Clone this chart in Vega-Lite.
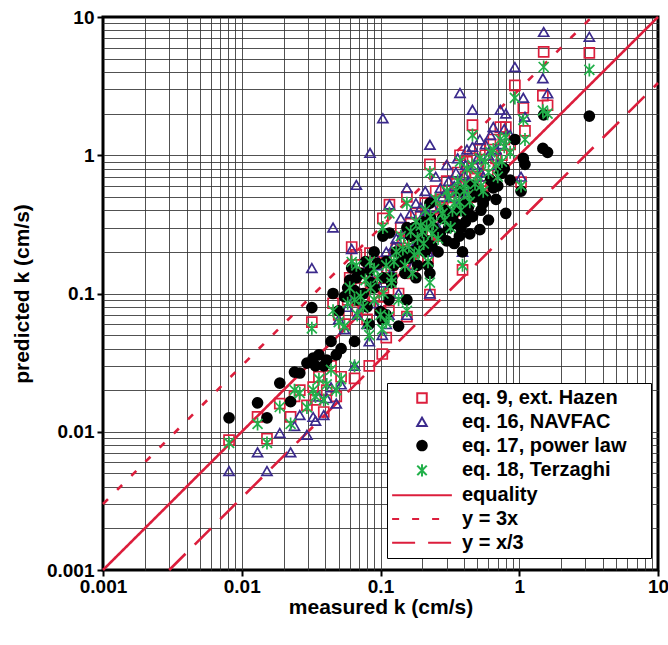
{
  "$schema": "https://vega.github.io/schema/vega-lite/v6.json",
  "width": 555,
  "height": 553,
  "autosize": {"type": "none"},
  "padding": {"left": 103, "top": 17, "right": 10, "bottom": 75},
  "background": "white",
  "config": {
    "view": {"stroke": "black", "strokeWidth": 3},
    "axis": {
      "labelFont": "Liberation Sans", "labelFontWeight": "bold", "labelFontSize": 19, "labelColor": "black",
      "titleFont": "Liberation Sans", "titleFontWeight": "bold", "titleFontSize": 21, "titleColor": "black",
      "domain": false, "grid": true, "gridColor": "#333333", "gridWidth": 1,
      "tickColor": "black", "tickWidth": 2, "tickSize": 6, "labelOverlap": false, "labelFlush": false
    },
    "legend": {
      "labelFont": "Liberation Sans", "labelFontWeight": "bold", "labelFontSize": 20, "labelColor": "black",
      "symbolSize": 90, "symbolStrokeWidth": 2, "labelLimit": 400,
      "titleOrient": "right", "titleColor": "white", "titleFontSize": 20, "titlePadding": 7, "titleFont": "Liberation Sans"
    }
  },
  "datasets": {
    "lines": [
      {"m": 0.001, "k": 0.001, "e": "E"}, {"m": 10, "k": 10, "e": "E"},
      {"m": 0.001, "k": 0.003, "e": "A"}, {"m": 3.3333, "k": 10, "e": "A"},
      {"m": 0.003, "k": 0.001, "e": "B"}, {"m": 10, "k": 3.3333, "e": "B"}
    ],
    "pts": [
      {"m":0.0081,"k":0.0087,"e":"H"},{"m":0.0152,"k":0.0089,"e":"H"},{"m":0.013,"k":0.0128,"e":"H"},{"m":0.0225,"k":0.0128,"e":"H"},{"m":0.0188,"k":0.016,"e":"H"},{"m":0.0295,"k":0.0155,"e":"H"},{"m":0.0262,"k":0.02,"e":"H"},{"m":0.0327,"k":0.021,"e":"H"},{"m":0.039,"k":0.0139,"e":"H"},{"m":0.041,"k":0.02,"e":"H"},{"m":0.024,"k":0.018,"e":"H"},{"m":0.036,"k":0.025,"e":"H"},{"m":0.044,"k":0.03,"e":"H"},{"m":0.034,"k":0.017,"e":"H"},{"m":0.032,"k":0.062,"e":"H"},{"m":0.0455,"k":0.085,"e":"H"},{"m":0.048,"k":0.018,"e":"H"},{"m":0.052,"k":0.025,"e":"H"},{"m":0.065,"k":0.0243,"e":"H"},{"m":0.062,"k":0.217,"e":"H"},{"m":0.067,"k":0.19,"e":"H"},{"m":0.083,"k":0.03,"e":"H"},{"m":0.084,"k":0.196,"e":"H"},{"m":0.103,"k":0.0365,"e":"H"},{"m":0.104,"k":0.35,"e":"H"},{"m":0.11,"k":0.048,"e":"H"},{"m":0.116,"k":0.44,"e":"H"},{"m":0.12,"k":0.16,"e":"H"},{"m":0.155,"k":0.068,"e":"H"},{"m":0.155,"k":0.5,"e":"H"},{"m":0.227,"k":0.098,"e":"H"},{"m":0.227,"k":0.86,"e":"H"},{"m":0.39,"k":0.148,"e":"H"},{"m":0.374,"k":1.0,"e":"H"},{"m":0.46,"k":1.65,"e":"H"},{"m":0.73,"k":1.6,"e":"H"},{"m":0.93,"k":3.2,"e":"H"},{"m":1.07,"k":2.2,"e":"H"},{"m":1.48,"k":2.7,"e":"H"},{"m":1.5,"k":5.6,"e":"H"},{"m":3.2,"k":5.5,"e":"H"},{"m":1.6,"k":2.3,"e":"H"},{"m":1.03,"k":0.64,"e":"H"},{"m":1.1,"k":1.5,"e":"H"},
      {"m":0.05,"k":0.07,"e":"H"},{"m":0.055,"k":0.06,"e":"H"},{"m":0.058,"k":0.09,"e":"H"},{"m":0.06,"k":0.13,"e":"H"},{"m":0.068,"k":0.075,"e":"H"},{"m":0.072,"k":0.11,"e":"H"},{"m":0.075,"k":0.085,"e":"H"},{"m":0.08,"k":0.065,"e":"H"},{"m":0.085,"k":0.12,"e":"H"},{"m":0.09,"k":0.095,"e":"H"},{"m":0.095,"k":0.14,"e":"H"},{"m":0.1,"k":0.08,"e":"H"},{"m":0.105,"k":0.11,"e":"H"},{"m":0.11,"k":0.17,"e":"H"},{"m":0.115,"k":0.075,"e":"H"},{"m":0.12,"k":0.13,"e":"H"},
      {"m":0.13,"k":0.21,"e":"H"},{"m":0.135,"k":0.1,"e":"H"},{"m":0.14,"k":0.3,"e":"H"},{"m":0.15,"k":0.17,"e":"H"},{"m":0.16,"k":0.25,"e":"H"},{"m":0.17,"k":0.14,"e":"H"},{"m":0.18,"k":0.38,"e":"H"},{"m":0.19,"k":0.22,"e":"H"},{"m":0.2,"k":0.3,"e":"H"},{"m":0.21,"k":0.45,"e":"H"},{"m":0.22,"k":0.18,"e":"H"},{"m":0.24,"k":0.35,"e":"H"},{"m":0.25,"k":0.55,"e":"H"},{"m":0.26,"k":0.26,"e":"H"},{"m":0.28,"k":0.42,"e":"H"},{"m":0.3,"k":0.65,"e":"H"},
      {"m":0.32,"k":0.33,"e":"H"},{"m":0.34,"k":0.5,"e":"H"},{"m":0.36,"k":0.75,"e":"H"},{"m":0.38,"k":0.42,"e":"H"},{"m":0.4,"k":0.6,"e":"H"},{"m":0.42,"k":0.9,"e":"H"},{"m":0.44,"k":0.5,"e":"H"},{"m":0.48,"k":0.7,"e":"H"},{"m":0.52,"k":1.1,"e":"H"},{"m":0.55,"k":0.6,"e":"H"},{"m":0.6,"k":0.85,"e":"H"},{"m":0.65,"k":1.3,"e":"H"},{"m":0.7,"k":0.75,"e":"H"},{"m":0.75,"k":1.0,"e":"H"},{"m":0.8,"k":1.6,"e":"H"},{"m":0.86,"k":1.2,"e":"H"},
      {"m":0.125,"k":0.19,"e":"H"},{"m":0.145,"k":0.24,"e":"H"},{"m":0.165,"k":0.32,"e":"H"},{"m":0.175,"k":0.2,"e":"H"},{"m":0.185,"k":0.27,"e":"H"},{"m":0.195,"k":0.36,"e":"H"},{"m":0.205,"k":0.24,"e":"H"},{"m":0.215,"k":0.33,"e":"H"},{"m":0.23,"k":0.4,"e":"H"},{"m":0.235,"k":0.28,"e":"H"},{"m":0.27,"k":0.48,"e":"H"},{"m":0.29,"k":0.36,"e":"H"},{"m":0.31,"k":0.55,"e":"H"},{"m":0.33,"k":0.42,"e":"H"},{"m":0.35,"k":0.62,"e":"H"},{"m":0.37,"k":0.5,"e":"H"},{"m":0.41,"k":0.7,"e":"H"},{"m":0.43,"k":0.58,"e":"H"},{"m":0.46,"k":0.95,"e":"H"},{"m":0.5,"k":0.8,"e":"H"},{"m":0.53,"k":0.65,"e":"H"},{"m":0.57,"k":1.0,"e":"H"},{"m":0.62,"k":1.2,"e":"H"},{"m":0.68,"k":0.95,"e":"H"},{"m":0.78,"k":1.3,"e":"H"},{"m":0.09,"k":0.17,"e":"H"},{"m":0.065,"k":0.1,"e":"H"},{"m":0.078,"k":0.14,"e":"H"},

      {"m":0.0081,"k":0.0052,"e":"N"},{"m":0.0152,"k":0.0052,"e":"N"},{"m":0.013,"k":0.0071,"e":"N"},{"m":0.0225,"k":0.0071,"e":"N"},{"m":0.0188,"k":0.0098,"e":"N"},{"m":0.0295,"k":0.0095,"e":"N"},{"m":0.0262,"k":0.0132,"e":"N"},{"m":0.0327,"k":0.0128,"e":"N"},{"m":0.039,"k":0.0132,"e":"N"},{"m":0.041,"k":0.0175,"e":"N"},{"m":0.024,"k":0.011,"e":"N"},{"m":0.036,"k":0.018,"e":"N"},{"m":0.044,"k":0.021,"e":"N"},{"m":0.034,"k":0.012,"e":"N"},{"m":0.032,"k":0.153,"e":"N"},{"m":0.0455,"k":0.3,"e":"N"},{"m":0.048,"k":0.016,"e":"N"},{"m":0.052,"k":0.022,"e":"N"},{"m":0.065,"k":0.03,"e":"N"},{"m":0.062,"k":0.21,"e":"N"},{"m":0.067,"k":0.61,"e":"N"},{"m":0.083,"k":0.045,"e":"N"},{"m":0.084,"k":1.04,"e":"N"},{"m":0.103,"k":0.05,"e":"N"},{"m":0.104,"k":1.85,"e":"N"},{"m":0.11,"k":0.06,"e":"N"},{"m":0.116,"k":0.44,"e":"N"},{"m":0.12,"k":0.143,"e":"N"},{"m":0.155,"k":0.07,"e":"N"},{"m":0.155,"k":0.58,"e":"N"},{"m":0.227,"k":0.1,"e":"N"},{"m":0.227,"k":1.19,"e":"N"},{"m":0.39,"k":0.2,"e":"N"},{"m":0.374,"k":2.82,"e":"N"},{"m":0.46,"k":2.13,"e":"N"},{"m":0.73,"k":2.13,"e":"N"},{"m":0.93,"k":4.35,"e":"N"},{"m":1.07,"k":2.6,"e":"N"},{"m":1.48,"k":3.6,"e":"N"},{"m":1.5,"k":7.8,"e":"N"},{"m":3.2,"k":7.2,"e":"N"},{"m":1.6,"k":2.8,"e":"N"},{"m":1.03,"k":0.7,"e":"N"},{"m":1.1,"k":1.9,"e":"N"},
      {"m":0.05,"k":0.065,"e":"N"},{"m":0.055,"k":0.055,"e":"N"},{"m":0.058,"k":0.08,"e":"N"},{"m":0.06,"k":0.12,"e":"N"},{"m":0.068,"k":0.07,"e":"N"},{"m":0.072,"k":0.1,"e":"N"},{"m":0.075,"k":0.08,"e":"N"},{"m":0.08,"k":0.06,"e":"N"},{"m":0.085,"k":0.13,"e":"N"},{"m":0.09,"k":0.085,"e":"N"},{"m":0.095,"k":0.16,"e":"N"},{"m":0.1,"k":0.075,"e":"N"},{"m":0.105,"k":0.12,"e":"N"},{"m":0.11,"k":0.2,"e":"N"},{"m":0.115,"k":0.07,"e":"N"},{"m":0.12,"k":0.14,"e":"N"},
      {"m":0.13,"k":0.25,"e":"N"},{"m":0.135,"k":0.1,"e":"N"},{"m":0.14,"k":0.35,"e":"N"},{"m":0.15,"k":0.19,"e":"N"},{"m":0.16,"k":0.3,"e":"N"},{"m":0.17,"k":0.16,"e":"N"},{"m":0.18,"k":0.45,"e":"N"},{"m":0.19,"k":0.24,"e":"N"},{"m":0.2,"k":0.36,"e":"N"},{"m":0.21,"k":0.55,"e":"N"},{"m":0.22,"k":0.2,"e":"N"},{"m":0.24,"k":0.42,"e":"N"},{"m":0.25,"k":0.7,"e":"N"},{"m":0.26,"k":0.3,"e":"N"},{"m":0.28,"k":0.5,"e":"N"},{"m":0.3,"k":0.85,"e":"N"},
      {"m":0.32,"k":0.38,"e":"N"},{"m":0.34,"k":0.6,"e":"N"},{"m":0.36,"k":0.95,"e":"N"},{"m":0.38,"k":0.48,"e":"N"},{"m":0.4,"k":0.72,"e":"N"},{"m":0.42,"k":1.1,"e":"N"},{"m":0.44,"k":0.55,"e":"N"},{"m":0.48,"k":0.85,"e":"N"},{"m":0.52,"k":1.3,"e":"N"},{"m":0.55,"k":0.7,"e":"N"},{"m":0.6,"k":1.0,"e":"N"},{"m":0.65,"k":1.6,"e":"N"},{"m":0.7,"k":0.85,"e":"N"},{"m":0.75,"k":1.2,"e":"N"},{"m":0.8,"k":2.0,"e":"N"},{"m":0.86,"k":1.4,"e":"N"},
      {"m":0.125,"k":0.22,"e":"N"},{"m":0.145,"k":0.27,"e":"N"},{"m":0.165,"k":0.38,"e":"N"},{"m":0.175,"k":0.22,"e":"N"},{"m":0.185,"k":0.3,"e":"N"},{"m":0.195,"k":0.42,"e":"N"},{"m":0.205,"k":0.26,"e":"N"},{"m":0.215,"k":0.38,"e":"N"},{"m":0.23,"k":0.48,"e":"N"},{"m":0.235,"k":0.32,"e":"N"},{"m":0.27,"k":0.58,"e":"N"},{"m":0.29,"k":0.4,"e":"N"},{"m":0.31,"k":0.65,"e":"N"},{"m":0.33,"k":0.5,"e":"N"},{"m":0.35,"k":0.75,"e":"N"},{"m":0.37,"k":0.6,"e":"N"},{"m":0.41,"k":0.85,"e":"N"},{"m":0.43,"k":0.65,"e":"N"},{"m":0.46,"k":1.15,"e":"N"},{"m":0.5,"k":0.95,"e":"N"},{"m":0.53,"k":0.75,"e":"N"},{"m":0.57,"k":1.2,"e":"N"},{"m":0.62,"k":1.4,"e":"N"},{"m":0.68,"k":1.1,"e":"N"},{"m":0.78,"k":1.55,"e":"N"},{"m":0.09,"k":0.19,"e":"N"},{"m":0.065,"k":0.095,"e":"N"},{"m":0.078,"k":0.15,"e":"N"},

      {"m":0.0081,"k":0.0126,"e":"P"},{"m":0.0152,"k":0.0126,"e":"P"},{"m":0.013,"k":0.0162,"e":"P"},{"m":0.0225,"k":0.0165,"e":"P"},{"m":0.0188,"k":0.0225,"e":"P"},{"m":0.0295,"k":0.0314,"e":"P"},{"m":0.0262,"k":0.0266,"e":"P"},{"m":0.0327,"k":0.0341,"e":"P"},{"m":0.039,"k":0.03,"e":"P"},{"m":0.041,"k":0.033,"e":"P"},{"m":0.024,"k":0.027,"e":"P"},{"m":0.036,"k":0.036,"e":"P"},{"m":0.044,"k":0.045,"e":"P"},{"m":0.034,"k":0.03,"e":"P"},{"m":0.032,"k":0.079,"e":"P"},{"m":0.0455,"k":0.1,"e":"P"},{"m":0.048,"k":0.036,"e":"P"},{"m":0.052,"k":0.04,"e":"P"},{"m":0.065,"k":0.045,"e":"P"},{"m":0.062,"k":0.153,"e":"P"},{"m":0.067,"k":0.13,"e":"P"},{"m":0.083,"k":0.06,"e":"P"},{"m":0.084,"k":0.147,"e":"P"},{"m":0.103,"k":0.065,"e":"P"},{"m":0.104,"k":0.26,"e":"P"},{"m":0.11,"k":0.07,"e":"P"},{"m":0.116,"k":0.274,"e":"P"},{"m":0.12,"k":0.13,"e":"P"},{"m":0.155,"k":0.09,"e":"P"},{"m":0.155,"k":0.3,"e":"P"},{"m":0.227,"k":0.14,"e":"P"},{"m":0.227,"k":0.45,"e":"P"},{"m":0.39,"k":0.2,"e":"P"},{"m":0.374,"k":0.55,"e":"P"},{"m":0.46,"k":0.6,"e":"P"},{"m":0.73,"k":0.75,"e":"P"},{"m":0.93,"k":1.3,"e":"P"},{"m":1.07,"k":0.95,"e":"P"},{"m":1.48,"k":1.12,"e":"P"},{"m":1.5,"k":1.96,"e":"P"},{"m":3.2,"k":1.92,"e":"P"},{"m":1.6,"k":1.05,"e":"P"},{"m":1.03,"k":0.55,"e":"P"},{"m":1.1,"k":0.86,"e":"P"},
      {"m":0.05,"k":0.075,"e":"P"},{"m":0.055,"k":0.095,"e":"P"},{"m":0.058,"k":0.11,"e":"P"},{"m":0.06,"k":0.125,"e":"P"},{"m":0.068,"k":0.09,"e":"P"},{"m":0.072,"k":0.14,"e":"P"},{"m":0.075,"k":0.1,"e":"P"},{"m":0.08,"k":0.08,"e":"P"},{"m":0.085,"k":0.12,"e":"P"},{"m":0.09,"k":0.11,"e":"P"},{"m":0.095,"k":0.165,"e":"P"},{"m":0.1,"k":0.074,"e":"P"},{"m":0.105,"k":0.13,"e":"P"},{"m":0.11,"k":0.17,"e":"P"},{"m":0.115,"k":0.09,"e":"P"},{"m":0.12,"k":0.12,"e":"P"},
      {"m":0.13,"k":0.2,"e":"P"},{"m":0.135,"k":0.058,"e":"P"},{"m":0.14,"k":0.17,"e":"P"},{"m":0.15,"k":0.14,"e":"P"},{"m":0.16,"k":0.18,"e":"P"},{"m":0.17,"k":0.2,"e":"P"},{"m":0.18,"k":0.13,"e":"P"},{"m":0.19,"k":0.22,"e":"P"},{"m":0.2,"k":0.25,"e":"P"},{"m":0.21,"k":0.2,"e":"P"},{"m":0.22,"k":0.16,"e":"P"},{"m":0.24,"k":0.3,"e":"P"},{"m":0.25,"k":0.28,"e":"P"},{"m":0.26,"k":0.2,"e":"P"},{"m":0.28,"k":0.35,"e":"P"},{"m":0.3,"k":0.24,"e":"P"},
      {"m":0.32,"k":0.33,"e":"P"},{"m":0.34,"k":0.23,"e":"P"},{"m":0.36,"k":0.4,"e":"P"},{"m":0.38,"k":0.3,"e":"P"},{"m":0.4,"k":0.45,"e":"P"},{"m":0.42,"k":0.38,"e":"P"},{"m":0.44,"k":0.27,"e":"P"},{"m":0.48,"k":0.5,"e":"P"},{"m":0.52,"k":0.29,"e":"P"},{"m":0.55,"k":0.45,"e":"P"},{"m":0.6,"k":0.34,"e":"P"},{"m":0.65,"k":0.58,"e":"P"},{"m":0.7,"k":0.6,"e":"P"},{"m":0.75,"k":0.74,"e":"P"},{"m":0.8,"k":0.38,"e":"P"},{"m":0.86,"k":0.66,"e":"P"},
      {"m":0.125,"k":0.16,"e":"P"},{"m":0.145,"k":0.2,"e":"P"},{"m":0.165,"k":0.26,"e":"P"},{"m":0.175,"k":0.3,"e":"P"},{"m":0.185,"k":0.16,"e":"P"},{"m":0.195,"k":0.28,"e":"P"},{"m":0.205,"k":0.33,"e":"P"},{"m":0.215,"k":0.24,"e":"P"},{"m":0.23,"k":0.35,"e":"P"},{"m":0.235,"k":0.22,"e":"P"},{"m":0.27,"k":0.27,"e":"P"},{"m":0.29,"k":0.4,"e":"P"},{"m":0.31,"k":0.3,"e":"P"},{"m":0.33,"k":0.36,"e":"P"},{"m":0.35,"k":0.32,"e":"P"},{"m":0.37,"k":0.26,"e":"P"},{"m":0.41,"k":0.33,"e":"P"},{"m":0.43,"k":0.42,"e":"P"},{"m":0.46,"k":0.36,"e":"P"},{"m":0.5,"k":0.55,"e":"P"},{"m":0.53,"k":0.4,"e":"P"},{"m":0.57,"k":0.5,"e":"P"},{"m":0.62,"k":0.66,"e":"P"},{"m":0.68,"k":0.48,"e":"P"},{"m":0.78,"k":0.8,"e":"P"},{"m":0.09,"k":0.2,"e":"P"},{"m":0.065,"k":0.105,"e":"P"},{"m":0.078,"k":0.17,"e":"P"},

      {"m":0.0081,"k":0.0083,"e":"T"},{"m":0.0152,"k":0.0083,"e":"T"},{"m":0.013,"k":0.0114,"e":"T"},{"m":0.0225,"k":0.0114,"e":"T"},{"m":0.0188,"k":0.0151,"e":"T"},{"m":0.0295,"k":0.015,"e":"T"},{"m":0.0262,"k":0.019,"e":"T"},{"m":0.0327,"k":0.02,"e":"T"},{"m":0.039,"k":0.017,"e":"T"},{"m":0.041,"k":0.022,"e":"T"},{"m":0.024,"k":0.02,"e":"T"},{"m":0.036,"k":0.024,"e":"T"},{"m":0.044,"k":0.028,"e":"T"},{"m":0.034,"k":0.018,"e":"T"},{"m":0.032,"k":0.056,"e":"T"},{"m":0.0455,"k":0.075,"e":"T"},{"m":0.048,"k":0.02,"e":"T"},{"m":0.052,"k":0.024,"e":"T"},{"m":0.065,"k":0.03,"e":"T"},{"m":0.062,"k":0.169,"e":"T"},{"m":0.067,"k":0.16,"e":"T"},{"m":0.083,"k":0.05,"e":"T"},{"m":0.084,"k":0.17,"e":"T"},{"m":0.103,"k":0.055,"e":"T"},{"m":0.104,"k":0.3,"e":"T"},{"m":0.11,"k":0.062,"e":"T"},{"m":0.116,"k":0.38,"e":"T"},{"m":0.12,"k":0.13,"e":"T"},{"m":0.155,"k":0.075,"e":"T"},{"m":0.155,"k":0.45,"e":"T"},{"m":0.227,"k":0.12,"e":"T"},{"m":0.227,"k":0.75,"e":"T"},{"m":0.39,"k":0.16,"e":"T"},{"m":0.374,"k":0.9,"e":"T"},{"m":0.46,"k":1.4,"e":"T"},{"m":0.73,"k":1.3,"e":"T"},{"m":0.93,"k":2.6,"e":"T"},{"m":1.07,"k":1.8,"e":"T"},{"m":1.48,"k":2.1,"e":"T"},{"m":1.5,"k":4.35,"e":"T"},{"m":3.2,"k":4.14,"e":"T"},{"m":1.6,"k":2.0,"e":"T"},{"m":1.03,"k":0.6,"e":"T"},{"m":1.1,"k":1.3,"e":"T"},
      {"m":0.05,"k":0.062,"e":"T"},{"m":0.055,"k":0.058,"e":"T"},{"m":0.058,"k":0.085,"e":"T"},{"m":0.06,"k":0.11,"e":"T"},{"m":0.068,"k":0.07,"e":"T"},{"m":0.072,"k":0.095,"e":"T"},{"m":0.075,"k":0.08,"e":"T"},{"m":0.08,"k":0.06,"e":"T"},{"m":0.085,"k":0.11,"e":"T"},{"m":0.09,"k":0.09,"e":"T"},{"m":0.095,"k":0.13,"e":"T"},{"m":0.1,"k":0.07,"e":"T"},{"m":0.105,"k":0.1,"e":"T"},{"m":0.11,"k":0.16,"e":"T"},{"m":0.115,"k":0.068,"e":"T"},{"m":0.12,"k":0.12,"e":"T"},
      {"m":0.13,"k":0.2,"e":"T"},{"m":0.135,"k":0.09,"e":"T"},{"m":0.14,"k":0.26,"e":"T"},{"m":0.15,"k":0.16,"e":"T"},{"m":0.16,"k":0.22,"e":"T"},{"m":0.17,"k":0.14,"e":"T"},{"m":0.18,"k":0.33,"e":"T"},{"m":0.19,"k":0.2,"e":"T"},{"m":0.2,"k":0.28,"e":"T"},{"m":0.21,"k":0.4,"e":"T"},{"m":0.22,"k":0.17,"e":"T"},{"m":0.24,"k":0.32,"e":"T"},{"m":0.25,"k":0.48,"e":"T"},{"m":0.26,"k":0.25,"e":"T"},{"m":0.28,"k":0.38,"e":"T"},{"m":0.3,"k":0.55,"e":"T"},
      {"m":0.32,"k":0.3,"e":"T"},{"m":0.34,"k":0.45,"e":"T"},{"m":0.36,"k":0.65,"e":"T"},{"m":0.38,"k":0.4,"e":"T"},{"m":0.4,"k":0.55,"e":"T"},{"m":0.42,"k":0.8,"e":"T"},{"m":0.44,"k":0.46,"e":"T"},{"m":0.48,"k":0.62,"e":"T"},{"m":0.52,"k":0.95,"e":"T"},{"m":0.55,"k":0.55,"e":"T"},{"m":0.6,"k":0.75,"e":"T"},{"m":0.65,"k":1.1,"e":"T"},{"m":0.7,"k":0.7,"e":"T"},{"m":0.75,"k":0.9,"e":"T"},{"m":0.8,"k":1.35,"e":"T"},{"m":0.86,"k":1.05,"e":"T"},
      {"m":0.125,"k":0.17,"e":"T"},{"m":0.145,"k":0.21,"e":"T"},{"m":0.165,"k":0.28,"e":"T"},{"m":0.175,"k":0.19,"e":"T"},{"m":0.185,"k":0.25,"e":"T"},{"m":0.195,"k":0.31,"e":"T"},{"m":0.205,"k":0.23,"e":"T"},{"m":0.215,"k":0.3,"e":"T"},{"m":0.23,"k":0.36,"e":"T"},{"m":0.235,"k":0.27,"e":"T"},{"m":0.27,"k":0.42,"e":"T"},{"m":0.29,"k":0.34,"e":"T"},{"m":0.31,"k":0.5,"e":"T"},{"m":0.33,"k":0.4,"e":"T"},{"m":0.35,"k":0.55,"e":"T"},{"m":0.37,"k":0.46,"e":"T"},{"m":0.41,"k":0.62,"e":"T"},{"m":0.43,"k":0.52,"e":"T"},{"m":0.46,"k":0.85,"e":"T"},{"m":0.5,"k":0.72,"e":"T"},{"m":0.53,"k":0.6,"e":"T"},{"m":0.57,"k":0.9,"e":"T"},{"m":0.62,"k":1.05,"e":"T"},{"m":0.68,"k":0.85,"e":"T"},{"m":0.78,"k":1.15,"e":"T"},{"m":0.09,"k":0.15,"e":"T"},{"m":0.065,"k":0.09,"e":"T"},{"m":0.078,"k":0.125,"e":"T"}
    ]
  },
  "encoding": {
    "x": {
      "field": "m", "type": "quantitative", "title": "measured k (cm/s)",
      "scale": {"type": "log", "domain": [0.001, 10], "nice": false},
      "axis": {
        "values": [0.001,0.002,0.003,0.004,0.005,0.006,0.007,0.008,0.009,0.01,0.02,0.03,0.04,0.05,0.06,0.07,0.08,0.09,0.1,0.2,0.3,0.4,0.5,0.6,0.7,0.8,0.9,1,2,3,4,5,6,7,8,9,10],
        "labelExpr": "datum.value==0.001?'0.001':datum.value==0.01?'0.01':datum.value==0.1?'0.1':datum.value==1?'1':datum.value==10?'10':''",
        "tickOpacity": {"condition": {"test": "datum.value==0.001||datum.value==0.01||datum.value==0.1||datum.value==1||datum.value==10", "value": 1}, "value": 0},
        "gridOpacity": {"condition": {"test": "datum.value==0.001||datum.value==10", "value": 0}, "value": 0.85},
        "labelPadding": 1, "titlePadding": 0
      }
    },
    "y": {
      "field": "k", "type": "quantitative", "title": "predicted k (cm/s)",
      "scale": {"type": "log", "domain": [0.001, 10], "nice": false},
      "axis": {
        "values": [0.001,0.002,0.003,0.004,0.005,0.006,0.007,0.008,0.009,0.01,0.02,0.03,0.04,0.05,0.06,0.07,0.08,0.09,0.1,0.2,0.3,0.4,0.5,0.6,0.7,0.8,0.9,1,2,3,4,5,6,7,8,9,10],
        "labelExpr": "datum.value==0.001?'0.001':datum.value==0.01?'0.01':datum.value==0.1?'0.1':datum.value==1?'1':datum.value==10?'10':''",
        "tickOpacity": {"condition": {"test": "datum.value==0.001||datum.value==0.01||datum.value==0.1||datum.value==1||datum.value==10", "value": 1}, "value": 0},
        "gridOpacity": {"condition": {"test": "datum.value==0.001||datum.value==10", "value": 0}, "value": 0.85},
        "labelPadding": 3, "titlePadding": 14
      }
    }
  },
  "layer": [
    {
      "data": {"name": "lines"},
      "mark": {"type": "line", "strokeWidth": 2.6},
      "encoding": {
        "stroke": {
          "field": "e", "type": "nominal",
          "scale": {"domain": ["H","N","P","T","E","A","B"], "range": ["#dc1e3c","#3b2a8c","#000000","#22b04a","#dc1e3c","#dc1e3c","#dc1e3c"]},
          "legend": {"title": "ii", "orient": "none", "legendX": 284, "legendY": 366, "strokeColor": "black", "fillColor": "white", "padding": 5, "rowPadding": 3.8, "symbolOffset": 20, "labelOffset": 30, "labelLimit": 400,
            "labelExpr": "{'H':'eq. 9, ext. Hazen','N':'eq. 16, NAVFAC','P':'eq. 17, power law','T':'eq. 18, Terzaghi','E':'equality','A':'y = 3x','B':'y = x/3'}[datum.label]"}
        },
        "strokeDash": {
          "field": "e", "type": "nominal",
          "scale": {"domain": ["H","N","P","T","E","A","B"], "range": [[1,0],[1,0],[1,0],[1,0],[1,0],[7,13],[23,13]]},
          "legend": {"title": "ii", "orient": "none", "legendX": 284, "legendY": 366}
        }
      }
    },
    {
      "data": {"name": "pts"},
      "mark": {"type": "point", "filled": true, "opacity": 1, "strokeWidth": 1.7, "size": 100},
      "encoding": {
        "shape": {
          "field": "e", "type": "nominal",
          "scale": {"domain": ["H","N","P","T","E","A","B"], "range": ["square","triangle-up","circle","M-1,-1L1,1M-1,1L1,-1M0,-1.3L0,1.3","M-6.3,0H6.3","M-6.3,0H6.3","M-6.3,0H6.3"]},
          "legend": {"title": "ii", "orient": "none", "legendX": 284, "legendY": 366}
        },
        "fill": {
          "field": "e", "type": "nominal",
          "scale": {"domain": ["H","N","P","T","E","A","B"], "range": ["transparent","transparent","#000000","transparent","transparent","transparent","transparent"]},
          "legend": {"title": "ii", "orient": "none", "legendX": 284, "legendY": 366}
        },
        "stroke": {"field": "e", "type": "nominal", "title": "ii"}
      }
    }
  ]
}
